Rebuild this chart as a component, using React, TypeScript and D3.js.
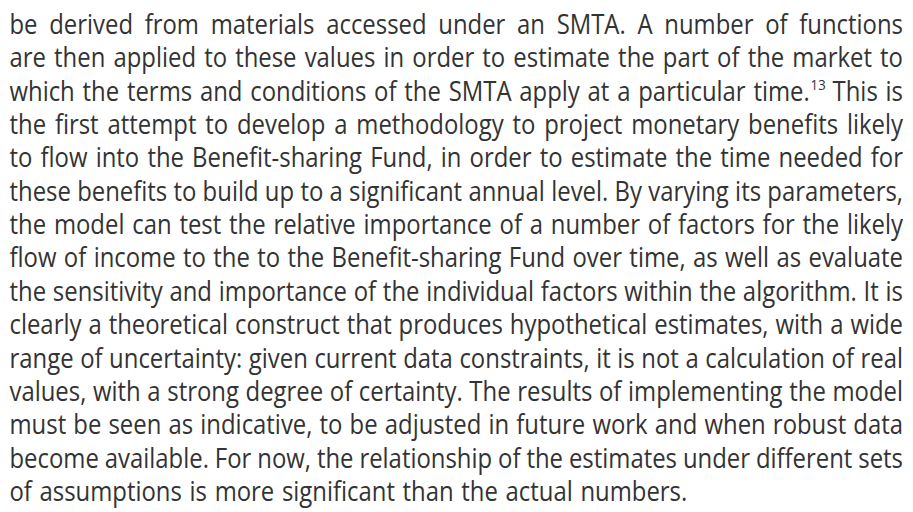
import React, { useRef, useEffect } from "react";
import * as d3 from "d3";

// paragraph lines as laid out in the reference ("^" marks a superscript)
const LINES: string[] = [
  "be derived from materials accessed under an SMTA. A number of functions",
  "are then applied to these values in order to estimate the part of the market to",
  "which the terms and conditions of the SMTA apply at a particular time.^13 This is",
  "the first attempt to develop a methodology to project monetary benefits likely",
  "to flow into the Benefit-sharing Fund, in order to estimate the time needed for",
  "these benefits to build up to a significant annual level. By varying its parameters,",
  "the model can test the relative importance of a number of factors for the likely",
  "flow of income to the to the Benefit-sharing Fund over time, as well as evaluate",
  "the sensitivity and importance of the individual factors within the algorithm. It is",
  "clearly a theoretical construct that produces hypothetical estimates, with a wide",
  "range of uncertainty: given current data constraints, it is not a calculation of real",
  "values, with a strong degree of certainty. The results of implementing the model",
  "must be seen as indicative, to be adjusted in future work and when robust data",
  "become available. For now, the relationship of the estimates under different sets",
  "of assumptions is more significant than the actual numbers.",
];

const W = 913;
const H = 512;
const FONT = "'Open Sans', 'Noto Sans', sans-serif";
const SIZE = 27;
const SX = 0.885; // horizontal squeeze, the source face is narrower
const COLOR = "#333333";

function Paragraph({ lines, width = W, height = H }: { lines: string[]; width?: number; height?: number }) {
  const svgRef = useRef<SVGSVGElement>(null);

  useEffect(() => {
    const svg = d3.select(svgRef.current);
    svg.selectAll("*").remove();

    // work in the un-squeezed coordinate space
    const left = 9.5 / SX;
    const right = 903 / SX;
    const y = d3.scaleLinear().domain([0, lines.length - 1]).range([34, 501]);

    const g = svg.append("g")
      .attr("transform", `scale(${SX},1)`)
      .attr("font-family", FONT)
      .attr("font-size", SIZE)
      .attr("fill", COLOR);

    const spaceW = SIZE * 0.32;

    lines.forEach((line, i) => {
      const words = line.split(" ");
      const nodes = words.map(w => {
        const t = g.append("text").attr("y", y(i));
        const [base, sup] = w.split("^");
        t.append("tspan").text(base);
        if (sup) {
          t.append("tspan")
            .attr("font-size", SIZE * 0.55)
            .attr("dy", -SIZE * 0.38)
            .attr("dx", 1)
            .text(sup);
        }
        return t;
      });
      const widths = nodes.map(n => (n.node() as SVGTextElement).getComputedTextLength());
      const total = d3.sum(widths);
      const isLast = i === lines.length - 1;
      let gap = isLast ? spaceW : (right - left - total) / (words.length - 1);
      let scale = 1;
      if (!isLast && gap < spaceW * 0.6) {
        gap = spaceW * 0.6;
        scale = (right - left - gap * (words.length - 1)) / total;
      }
      let x = left;
      nodes.forEach((n, k) => {
        n.attr("x", x);
        if (scale !== 1) {
          n.attr("textLength", widths[k] * scale).attr("lengthAdjust", "spacingAndGlyphs");
        }
        x += widths[k] * scale + gap;
      });
    });
  }, [lines, width, height]);

  return (
    <svg
      ref={svgRef}
      width={width}
      height={height}
      style={{ position: "absolute", left: 0, top: 0, background: "#ffffff" }}
    ></svg>
  );
}

export default function App() {
  return <Paragraph lines={LINES} />;
}
